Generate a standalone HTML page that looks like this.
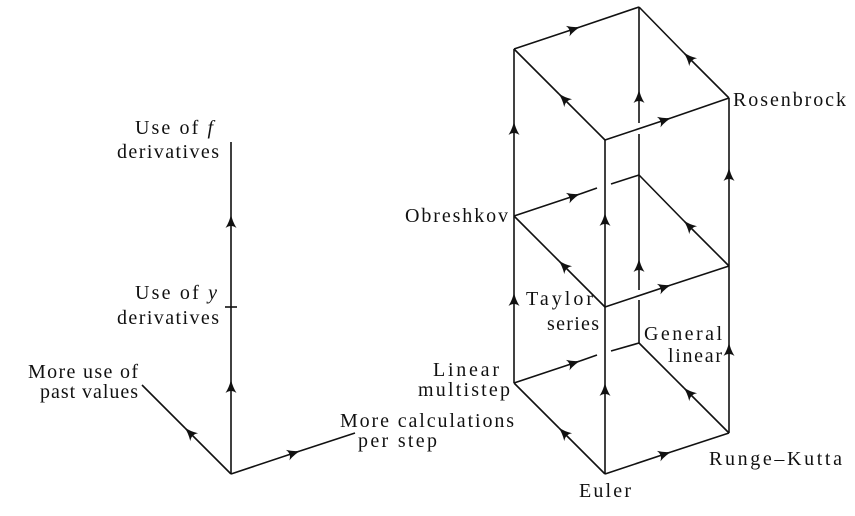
<!DOCTYPE html>
<html><head><meta charset="utf-8"><style>
html,body{margin:0;padding:0;background:#fff;}
svg{display:block;}
text{font-family:"Liberation Serif",serif;font-size:20px;fill:#111;}
</style></head><body>
<svg width="855" height="516" viewBox="0 0 855 516" xmlns="http://www.w3.org/2000/svg">
<defs>
<marker id="a" viewBox="-14 -6 16 12" refX="0" refY="0" markerWidth="16" markerHeight="12" markerUnits="userSpaceOnUse" orient="auto">
<path d="M-13,-5.5 Q-6,-1.2 1,0 Q-6,1.2 -13,5.5 Q-9,0 -13,-5.5Z" fill="#111"/>
</marker>
</defs>
<g stroke="#111" stroke-width="1.6" fill="none">
<line x1="231" y1="474" x2="231" y2="380" marker-end="url(#a)"/>
<line x1="231" y1="380" x2="231" y2="215" marker-end="url(#a)"/>
<line x1="231" y1="215" x2="231" y2="142"/>
<line x1="225" y1="307" x2="237" y2="307"/>
<line x1="231" y1="474" x2="185" y2="428" marker-end="url(#a)"/>
<line x1="185" y1="428" x2="142" y2="385"/>
<line x1="231" y1="474" x2="300" y2="451" marker-end="url(#a)"/>
<line x1="300" y1="451" x2="355" y2="433"/>

<line x1="639" y1="343" x2="639" y2="300"/>
<line x1="639" y1="290" x2="639" y2="259" marker-end="url(#a)"/>
<line x1="639" y1="259" x2="639" y2="175"/>
<line x1="639" y1="175" x2="639" y2="134"/>
<line x1="639" y1="123" x2="639" y2="90" marker-end="url(#a)"/>
<line x1="639" y1="90" x2="639" y2="7"/>

<line x1="514" y1="383" x2="580" y2="361" marker-end="url(#a)"/>
<line x1="580" y1="361" x2="597" y2="355"/>
<line x1="611" y1="351" x2="639" y2="343"/>
<line x1="514" y1="216" x2="580" y2="194" marker-end="url(#a)"/>
<line x1="580" y1="194" x2="597" y2="188"/>
<line x1="611" y1="184" x2="639" y2="175"/>
<line x1="514" y1="49" x2="580" y2="27" marker-end="url(#a)"/>
<line x1="580" y1="27" x2="639" y2="7"/>

<line x1="729" y1="433" x2="684" y2="388" marker-end="url(#a)"/>
<line x1="684" y1="388" x2="639" y2="343"/>
<line x1="729" y1="266" x2="684" y2="221" marker-end="url(#a)"/>
<line x1="684" y1="221" x2="639" y2="175"/>
<line x1="729" y1="98" x2="684" y2="53" marker-end="url(#a)"/>
<line x1="684" y1="53" x2="639" y2="7"/>

<line x1="514" y1="383" x2="514" y2="293" marker-end="url(#a)"/>
<line x1="514" y1="293" x2="514" y2="216"/>
<line x1="514" y1="216" x2="514" y2="122" marker-end="url(#a)"/>
<line x1="514" y1="122" x2="514" y2="49"/>

<line x1="729" y1="433" x2="729" y2="343" marker-end="url(#a)"/>
<line x1="729" y1="343" x2="729" y2="266"/>
<line x1="729" y1="266" x2="729" y2="168" marker-end="url(#a)"/>
<line x1="729" y1="168" x2="729" y2="98"/>

<line x1="605" y1="474" x2="559" y2="428" marker-end="url(#a)"/>
<line x1="559" y1="428" x2="514" y2="383"/>
<line x1="605" y1="307" x2="559" y2="261" marker-end="url(#a)"/>
<line x1="559" y1="261" x2="514" y2="216"/>
<line x1="605" y1="140" x2="559" y2="94" marker-end="url(#a)"/>
<line x1="559" y1="94" x2="514" y2="49"/>

<line x1="605" y1="474" x2="671" y2="452" marker-end="url(#a)"/>
<line x1="671" y1="452" x2="729" y2="433"/>
<line x1="605" y1="307" x2="671" y2="285" marker-end="url(#a)"/>
<line x1="671" y1="285" x2="729" y2="266"/>
<line x1="605" y1="140" x2="671" y2="118" marker-end="url(#a)"/>
<line x1="671" y1="118" x2="729" y2="98"/>

<line x1="605" y1="474" x2="605" y2="383" marker-end="url(#a)"/>
<line x1="605" y1="383" x2="605" y2="307"/>
<line x1="605" y1="307" x2="605" y2="213" marker-end="url(#a)"/>
<line x1="605" y1="213" x2="605" y2="140"/>
</g>

<text x="135" y="134" textLength="78" lengthAdjust="spacing">Use of <tspan font-style="italic">f</tspan></text>
<text x="117" y="158" textLength="102" lengthAdjust="spacing">derivatives</text>
<text x="135" y="299" textLength="82" lengthAdjust="spacing">Use of <tspan font-style="italic">y</tspan></text>
<text x="117" y="324" textLength="102" lengthAdjust="spacing">derivatives</text>
<text x="28" y="378" textLength="110" lengthAdjust="spacing">More use of</text>
<text x="40" y="398" textLength="98" lengthAdjust="spacing">past values</text>
<text x="340" y="427" textLength="174" lengthAdjust="spacing">More calculations</text>
<text x="358" y="447" textLength="79" lengthAdjust="spacing">per step</text>
<text x="405" y="222" textLength="103" lengthAdjust="spacing">Obreshkov</text>
<text x="733" y="106" textLength="113" lengthAdjust="spacing">Rosenbrock</text>
<text x="526" y="305" textLength="67" lengthAdjust="spacing">Taylor</text>
<text x="547" y="330" textLength="52" lengthAdjust="spacing">series</text>
<text x="644" y="340" textLength="78" lengthAdjust="spacing">General</text>
<text x="668" y="362" textLength="54" lengthAdjust="spacing">linear</text>
<text x="433" y="376" textLength="66" lengthAdjust="spacing">Linear</text>
<text x="418" y="396" textLength="92" lengthAdjust="spacing">multistep</text>
<text x="709" y="465" textLength="133" lengthAdjust="spacing">Runge–Kutta</text>
<text x="579" y="497" textLength="52" lengthAdjust="spacing">Euler</text>
</svg>
</body></html>
